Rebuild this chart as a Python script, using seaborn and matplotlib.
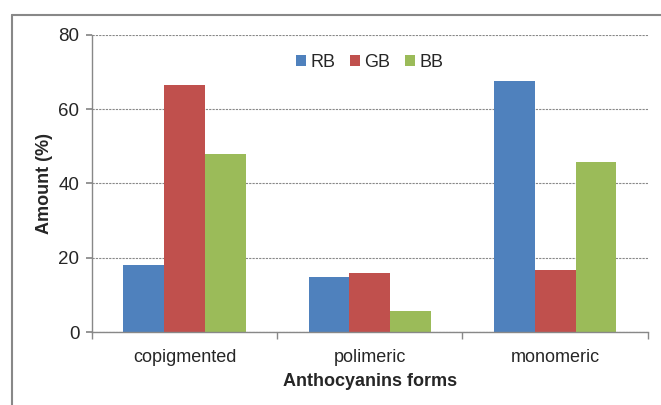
import numpy as np
import pandas as pd
import matplotlib
matplotlib.use("Agg")
import matplotlib.pyplot as plt
import seaborn as sns
from matplotlib.lines import Line2D

# Dados
categories = ["copigmented", "polimeric", "monomeric"]
series_names = ["RB", "GB", "BB"]
rb_values = [18.0, 14.7, 67.5]
gb_values = [66.5, 16.0, 16.8]
bb_values = [48.0, 5.8, 45.8]
colors = ["#4F81BD", "#C0504D", "#9BBB59"]

df = pd.DataFrame({
    "form": categories * 3,
    "series": np.repeat(series_names, len(categories)),
    "amount": rb_values + gb_values + bb_values,
})

sns.set_theme(style="white")
plt.rcParams["font.family"] = ["Liberation Sans", "DejaVu Sans"]

fig = plt.figure(figsize=(6.61, 4.05), dpi=100)
ax = fig.add_axes([0.139, 0.180, 0.841, 0.734])

sns.barplot(data=df, x="form", y="amount", hue="series", order=categories,
            hue_order=series_names, palette=colors, width=0.66, gap=0,
            saturation=1, linewidth=0, ax=ax)

ax.set_ylim(0, 80)
ax.set_yticks([0, 20, 40, 60, 80])
ax.set_xlim(-0.5, 2.5)
ax.yaxis.grid(True, color="#888888", linestyle=(0, (2, 1)), linewidth=0.8)
ax.set_axisbelow(True)

for side in ["top", "right"]:
    ax.spines[side].set_visible(False)
for side in ["left", "bottom"]:
    ax.spines[side].set_color("#888888")
    ax.spines[side].set_linewidth(1)

# ticks do eixo x nas fronteiras das categorias
ax.set_xticks([0, 1, 2])
ax.set_xticklabels(categories, fontsize=13)
ax.tick_params(axis="x", length=0, pad=12)
ax.set_xticks([-0.5, 0.5, 1.5, 2.5], minor=True)
ax.tick_params(axis="x", which="minor", length=5, color="#888888", direction="out", bottom=True)
ax.tick_params(axis="y", length=4, color="#888888", direction="out", left=True, labelsize=13.5, pad=5)

ax.set_xlabel("Anthocyanins forms", fontsize=13, fontweight="bold", labelpad=5)
ax.set_ylabel("Amount (%)", fontsize=13, fontweight="bold", labelpad=4)

ax.legend(loc="upper center", bbox_to_anchor=(0.5, 0.99), ncol=3, frameon=False,
          fontsize=13, handlelength=0.55, handleheight=0.55, handletextpad=0.25,
          columnspacing=0.8)

# moldura externa da figura
fig.add_artist(Line2D([12 / 661, 12 / 661], [0, 1 - 15 / 405], color="#888888", linewidth=1.5))
fig.add_artist(Line2D([12 / 661, 1], [1 - 15 / 405, 1 - 15 / 405], color="#888888", linewidth=1.5))

fig.savefig("out.png", dpi=100)
plt.close(fig)
